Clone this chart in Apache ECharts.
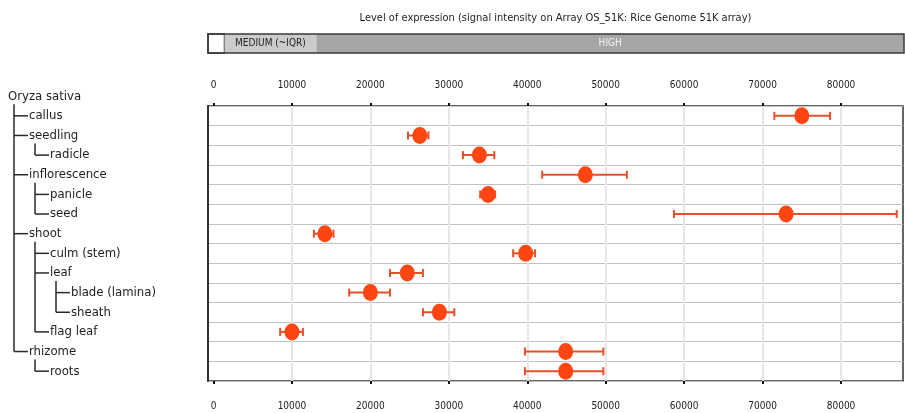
<!DOCTYPE html>
<html>
<head>
<meta charset="utf-8">
<script src="https://cdn.jsdelivr.net/npm/echarts@6/dist/echarts.min.js"></script>
<style>
  html, body { margin: 0; padding: 0; background: #ffffff; }
  #chart { width: 905px; height: 413px; }
</style>
</head>
<body>
<div id="chart"></div>
<script>
// Tissues in tree order, with their depth below the species root
const rootLabel = 'Oryza sativa';
const tissues = ['callus', 'seedling', 'radicle', 'inflorescence', 'panicle', 'seed', 'shoot',
  'culm (stem)', 'leaf', 'blade (lamina)', 'sheath', 'flag leaf', 'rhizome', 'roots'];
const treeLevels = [1, 1, 2, 1, 2, 2, 1, 2, 2, 3, 3, 2, 1, 2];

// Signal intensity: mean and lower / upper error limits
const expression = [75000, 26300, 33900, 47400, 35000, 73000, 14200, 39800, 24700, 20000, 28800, 10000, 44900, 44900];
const lowerLimit = [71500, 24800, 31800, 41900, 34000, 58700, 12800, 38200, 22500, 17300, 26700, 8500, 39700, 39700];
const upperLimit = [78600, 27400, 35800, 52700, 35900, 87100, 15300, 41000, 26700, 22500, 30700, 11400, 49700, 49700];

// Axis range and labelled ticks
const axisMin = -700;
const axisMax = 87900;
const tickValues = [0, 10000, 20000, 30000, 40000, 50000, 60000, 70000, 80000];

// Expression level bands shown above the plot
const bandLabels = ['', 'MEDIUM (~IQR)', 'HIGH'];
const bandStarts = [axisMin, 1400, 13100];
const bandEnds = [1400, 13100, axisMax];
const bandColors = ['#ffffff', '#cbcbcb', '#a6a6a6'];
const bandTextColors = ['#222222', '#222222', '#f4f4f4'];

const titleText = 'Level of expression (signal intensity on Array OS_51K: Rice Genome 51K array)';

const FONT = "'DejaVu Sans Condensed', 'Liberation Sans Narrow', 'DejaVu Sans', sans-serif";
const GRID_LEFT = 208, GRID_RIGHT = 2;

const chart = echarts.init(document.getElementById('chart'), null, { renderer: 'canvas' });

const tickLabel = {
  show: true, customValues: tickValues, color: '#222', fontFamily: FONT, fontSize: 10,
  formatter: v => String(Math.round(v))
};

// vertical guides: none at zero (it sits against the frame), faint grey elsewhere
const guideColors = tickValues.map(v => (v === 0 ? 'rgba(0,0,0,0)' : '#e6e6e6'));

const valueAxisBase = {
  type: 'value',
  min: axisMin,
  max: axisMax,
  gridIndex: 0,
  axisLine: { show: false, onZero: false },
  axisTick: { show: true, customValues: tickValues, length: 3, lineStyle: { color: '#111', width: 2 } },
  splitLine: { show: false }
};

const option = {
  animation: false,
  backgroundColor: '#ffffff',
  grid: [
    { left: GRID_LEFT, right: GRID_RIGHT, top: 106, bottom: 32, show: true, borderColor: '#333', borderWidth: 1.5, backgroundColor: '#fff' },
    { left: GRID_LEFT, right: 1, top: 34, height: 19 }
  ],
  xAxis: [
    Object.assign({}, valueAxisBase, {
      position: 'bottom',
      axisLabel: Object.assign({}, tickLabel, { margin: 20 }),
      splitLine: { show: true, lineStyle: { color: guideColors, width: 2 } }
    }),
    Object.assign({}, valueAxisBase, {
      position: 'top',
      axisLabel: Object.assign({}, tickLabel, { margin: 16 })
    }),
    { type: 'value', gridIndex: 1, min: axisMin, max: axisMax, show: false }
  ],
  yAxis: [
    {
      type: 'category',
      gridIndex: 0,
      data: tissues,
      inverse: true,
      axisLine: { show: true, onZero: false, lineStyle: { color: '#333', width: 2 } },
      axisTick: { show: false },
      axisLabel: { show: false },
      splitLine: { show: true, lineStyle: { color: '#c2c2c2', width: 1 } }
    },
    { type: 'category', gridIndex: 1, data: ['band'], show: false }
  ],
  series: [
    {
      // expression level bands
      type: 'custom',
      xAxisIndex: 2,
      yAxisIndex: 1,
      silent: true,
      data: bandLabels.map((l, i) => [bandStarts[i], bandEnds[i], i]),
      renderItem: function (params, api) {
        const i = api.value(2);
        const p0 = api.coord([api.value(0), 0]);
        const p1 = api.coord([api.value(1), 0]);
        const cs = params.coordSys;
        const children = [
          { type: 'rect', shape: { x: p0[0], y: cs.y, width: p1[0] - p0[0], height: cs.height },
            style: { fill: bandColors[i], stroke: i === 0 ? '#3a3a3a' : null, lineWidth: 1.5 } },
          { type: 'text', style: { text: bandLabels[i], x: (p0[0] + p1[0]) / 2, y: cs.y + cs.height / 2,
            textAlign: 'center', textVerticalAlign: 'middle', fill: bandTextColors[i],
            font: '10px ' + FONT } }
        ];
        if (i === bandLabels.length - 1) {
          const s = api.coord([bandStarts[0], 0]);
          children.push({ type: 'rect', shape: { x: s[0], y: cs.y, width: p1[0] - s[0], height: cs.height },
            style: { fill: null, stroke: '#3a3a3a', lineWidth: 1.5 } });
        }
        return { type: 'group', children: children };
      },
      z: 2
    },
    {
      // error bars with end caps
      type: 'custom',
      xAxisIndex: 0,
      yAxisIndex: 0,
      silent: true,
      data: tissues.map((t, i) => [lowerLimit[i], upperLimit[i], i]),
      renderItem: function (params, api) {
        const a = api.coord([api.value(0), api.value(2)]);
        const b = api.coord([api.value(1), api.value(2)]);
        const cap = 4;
        const st = { stroke: '#e5502a', lineWidth: 2 };
        return {
          type: 'group',
          children: [
            { type: 'line', shape: { x1: a[0], y1: a[1], x2: b[0], y2: b[1] }, style: st },
            { type: 'line', shape: { x1: a[0], y1: a[1] - cap, x2: a[0], y2: a[1] + cap }, style: st },
            { type: 'line', shape: { x1: b[0], y1: b[1] - cap, x2: b[0], y2: b[1] + cap }, style: st }
          ]
        };
      },
      z: 3
    },
    {
      type: 'scatter',
      xAxisIndex: 0,
      yAxisIndex: 0,
      data: tissues.map((t, i) => [expression[i], i]),
      symbol: 'circle',
      symbolSize: [15, 17],
      itemStyle: { color: '#ff4512', opacity: 1 },
      z: 4
    }
  ]
};

chart.setOption(option);

// Tissue tree drawn beside the rows
function drawTree() {
  const rowY = i => chart.convertToPixel({ yAxisIndex: 0 }, i);
  const step = rowY(1) - rowY(0);
  const nodes = [{ label: rootLabel, level: 0, y: rowY(0) - step }].concat(
    tissues.map((t, i) => ({ label: t, level: treeLevels[i], y: rowY(i) }))
  );
  const textX = L => 8 + 21 * L;
  const stemX = L => 14 + 21 * (L - 1);
  const lineStyle = { stroke: '#2a2a2a', lineWidth: 1.5 };
  const elements = [];

  nodes.forEach((n, k) => {
    elements.push({
      type: 'text',
      style: { text: n.label, x: textX(n.level), y: n.y, textVerticalAlign: 'middle',
        fill: '#1e1e1e', font: '13px ' + FONT }
    });
    const kids = [];
    for (let j = k + 1; j < nodes.length && nodes[j].level > n.level; j++) {
      if (nodes[j].level === n.level + 1) kids.push(nodes[j]);
    }
    if (kids.length) {
      const sx = stemX(n.level + 1);
      const last = kids[kids.length - 1];
      elements.push({ type: 'line', shape: { x1: sx, y1: n.y + 8, x2: sx, y2: last.y }, style: lineStyle });
      kids.forEach(c => {
        elements.push({ type: 'line', shape: { x1: sx, y1: c.y, x2: textX(c.level) - 1, y2: c.y }, style: lineStyle });
      });
    }
  });

  const cx = (GRID_LEFT + (905 - GRID_RIGHT)) / 2;
  elements.push({
    type: 'text',
    style: { text: titleText, x: cx, y: 18, textAlign: 'center', textVerticalAlign: 'middle',
      fill: '#1e1e1e', font: '11px ' + FONT }
  });

  chart.setOption({ graphic: { elements: elements } });
}
drawTree();
</script>
</body>
</html>
